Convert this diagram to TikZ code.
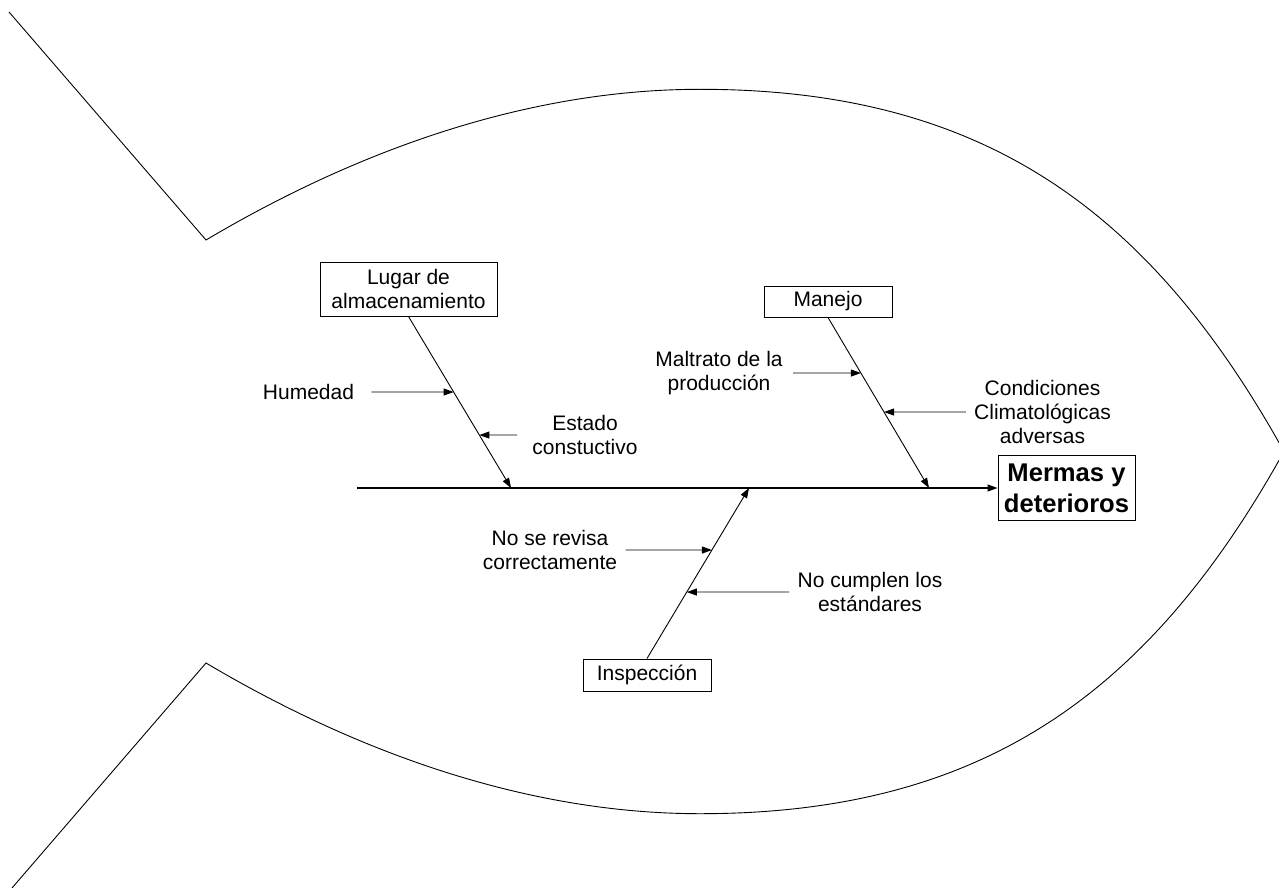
\documentclass[tikz,border=0pt]{standalone}
\usepackage{fontspec}
\setmainfont{Liberation Sans}
\usetikzlibrary{arrows.meta,positioning,calc}

\begin{document}
\begin{tikzpicture}[x=0.5pt, y=-0.5pt,
  txt/.style={font=\fontsize{10.5}{11.8}\selectfont, align=center, inner sep=0pt},
  box/.style={draw, line width=0.5pt, font=\fontsize{10.5}{11.8}\selectfont, align=center, inner sep=0pt},
  bone/.style={line width=0.45pt, -{Triangle[length=5pt,width=3.5pt]}},
  cause/.style={line width=0.45pt, -{Triangle[length=5pt,width=3.5pt]}}]

\useasboundingbox (0,0) rectangle (1279,888);

% Fish outline (tail and body)
\draw[line width=0.45pt] (9,12) -- (206,240)
  .. controls (368.6,143.6) and (537.4,89.3) .. (700,89.3)
  .. controls (980,89.3) and (1147.9,206.8) .. (1284,451.5)
  .. controls (1147.9,696.2) and (980,813.7) .. (700,813.7)
  .. controls (537.4,813.7) and (368.6,759.4) .. (206,663)
  -- (12,888);

% Head (effect) and spine
\node[box, font=\bfseries\fontsize{12.8}{15.5}\selectfont, minimum width=68.5pt, minimum height=32.5pt] (effect) at (1066.5,488) {Mermas y\\deterioros};
\coordinate (tail) at (357,488);
\draw[bone, line width=0.6pt] (tail) -- (effect.west);

% Main categories
\node[box, minimum width=88.5pt, minimum height=27pt] (lugar) at (408.5,289) {Lugar de\\almacenamiento};
\node[box, minimum width=64pt, minimum height=15.5pt] (manejo) at (828,301.5) {Manejo};
\node[box, minimum width=64pt, minimum height=16pt] (insp) at (647,675) {Inspección};

% Bones meet the spine
\coordinate (jL) at (511,488);
\coordinate (jM) at (929,488);
\coordinate (jI) at (749,488);
\draw[bone] (lugar.south) -- (jL);
\draw[bone] (manejo.south) -- (jM);
\draw[bone] (insp.north) -- (jI);

% Causes
\node[txt] (hum) at (308.5,392) {Humedad};
\node[txt] (est) at (585,435) {Estado\\constuctivo};
\node[txt] (mal) at (719,373) {Maltrato de la\\producción};
\node[txt] (cond) at (1042.5,412) {Condiciones\\Climatológicas\\adversas};
\node[txt] (rev) at (550,550) {No se revisa\\correctamente};
\node[txt] (cump) at (870,592) {No cumplen los\\estándares};

\draw[cause] ([xshift=8.5pt]hum.east) -- (intersection of lugar.south--jL and hum.west--hum.east);
\draw[cause] ([xshift=-7.5pt]est.west) -- (intersection of lugar.south--jL and est.west--est.east);
\draw[cause] ([xshift=5pt]mal.east) -- (intersection of manejo.south--jM and mal.west--mal.east);
\draw[cause] ([xshift=-4pt]cond.west) -- (intersection of manejo.south--jM and cond.west--cond.east);
\draw[cause] ([xshift=4pt]rev.east) -- (intersection of insp.north--jI and rev.west--rev.east);
\draw[cause] ([xshift=-4pt]cump.west) -- (intersection of insp.north--jI and cump.west--cump.east);

\end{tikzpicture}
\end{document}
